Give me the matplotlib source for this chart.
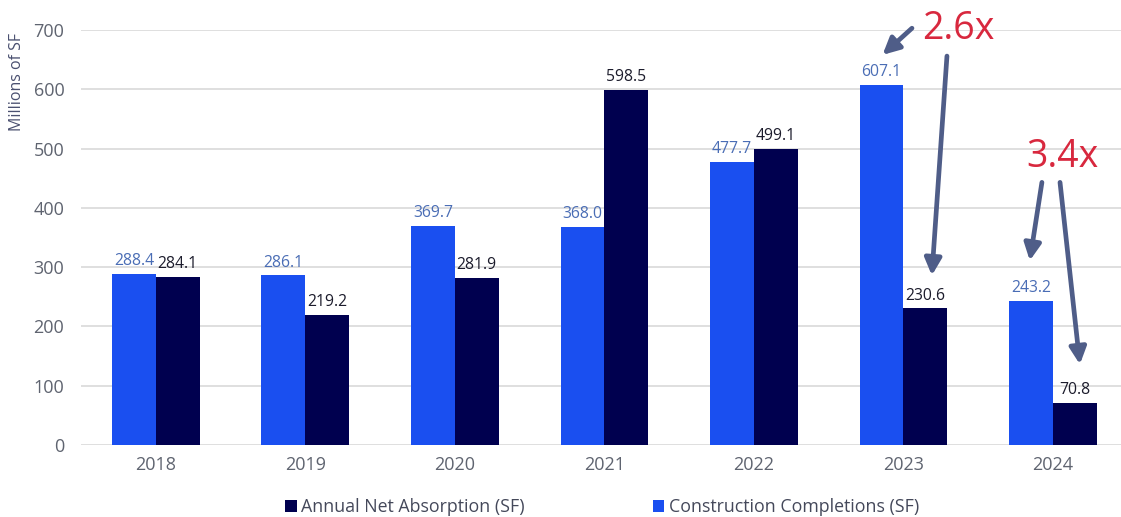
import matplotlib
matplotlib.use("Agg")
import matplotlib.pyplot as plt
import numpy as np

plt.rcParams['font.family'] = ['Open Sans', 'DejaVu Sans']

years = ["2018", "2019", "2020", "2021", "2022", "2023", "2024"]
completions = [288.4, 286.1, 369.7, 368.0, 477.7, 607.1, 243.2]
absorption = [284.1, 219.2, 281.9, 598.5, 499.1, 230.6, 70.8]
y_ticks = [0, 100, 200, 300, 400, 500, 600, 700]

BLUE = "#1a4ff0"
NAVY = "#00004f"
BLUE_TXT = "#4a6db5"
DARK_TXT = "#1c1c2c"
TICK_TXT = "#5f6470"
ARROW = "#4f5d88"
RED = "#d8283e"

W, H = 1121, 517
fig = plt.figure(figsize=(W / 100, H / 100), dpi=100)
ax = fig.add_axes([81 / W, (H - 445) / H, (W - 81) / W, 415 / H])

x = np.arange(len(years))
bw = 0.293
ax.bar(x - bw / 2, completions, bw, color=BLUE, label="Construction Completions (SF)", zorder=3)
ax.bar(x + bw / 2, absorption, bw, color=NAVY, label="Annual Net Absorption (SF)", zorder=3)

for xi, v in zip(x, completions):
    ax.text(xi - bw / 2, v + 8, f"{v:.1f}", ha="center", va="bottom",
            fontsize=11.3, color=BLUE_TXT, zorder=4)
for xi, v in zip(x, absorption):
    ax.text(xi + bw / 2, v + 8, f"{v:.1f}", ha="center", va="bottom",
            fontsize=11.3, color=DARK_TXT, zorder=4)

ax.set_xlim(-0.5, (W - 156) / 149.5)
ax.set_ylim(0, 700)
ax.set_yticks(y_ticks)
ax.set_xticks(x)
ax.set_xticklabels(years)
ax.grid(axis="y", color="#d9d9d9", linewidth=1.2, zorder=0)
for s in ax.spines.values():
    s.set_visible(False)
ax.tick_params(axis="both", length=0, labelsize=13, colors=TICK_TXT)
ax.tick_params(axis="y", pad=12)
ax.tick_params(axis="x", pad=8)
ax.set_ylabel("Millions of SF", fontsize=11.5, color="#4a5070")
ax.yaxis.set_label_coords(-0.054, 0.876)

# Multiplier call-outs
arrow_kw = dict(arrowstyle="-|>,head_length=1.0,head_width=0.5", color=ARROW,
                lw=3.4, shrinkA=0, shrinkB=0)
arrows = [
    ((5.057, 703), (4.86, 658)),
    ((5.291, 656), (5.19, 286)),
    ((5.926, 443), (5.845, 311)),
    ((6.047, 443), (6.18, 136)),
]
for tail, head in arrows:
    ax.annotate("", xy=head, xytext=tail, arrowprops=arrow_kw,
                annotation_clip=False, zorder=5)
ax.text(5.365, 702, "2.6x", fontsize=27, color=RED, ha="center", va="center",
        zorder=6, clip_on=False)
ax.text(6.06, 485, "3.4x", fontsize=27, color=RED, ha="center", va="center",
        zorder=6)

handles, labels = ax.get_legend_handles_labels()
fig.legend(handles[::-1], labels[::-1], loc="center", ncol=2,
           bbox_to_anchor=(602 / W, 1 - 507 / H), frameon=False,
           fontsize=12.8, handlelength=0.65, handleheight=0.65, handletextpad=0.25,
           columnspacing=7.2, labelcolor="#44485a")

fig.savefig("out.png", dpi=100, facecolor="white")
